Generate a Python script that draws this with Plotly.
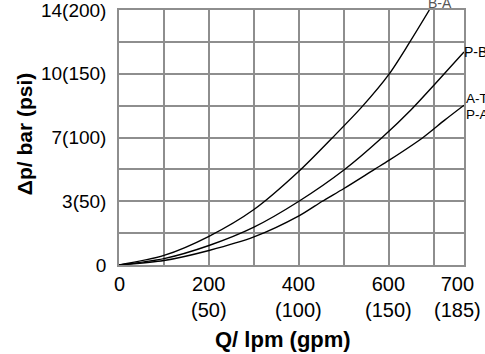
import plotly.graph_objects as go

# Flow (lpm) and pressure drop (psi)
BA_Q = [0, 100, 200, 300, 400, 475, 540, 600, 645, 690]
BA_PSI = [0, 7.5, 22.5, 43.5, 73.5, 100, 124, 149.5, 174, 200]

PB_Q = [0, 100, 200, 300, 400, 500, 585, 650, 700, 767]
PB_PSI = [0, 5, 15.3, 29.7, 50, 74.5, 100, 122, 141, 167]

AT_Q = [0, 100, 200, 300, 400, 452, 500, 568, 600, 676, 724, 767]
AT_PSI = [0, 3.5, 11.4, 22, 38.5, 50, 60, 75, 82, 100, 113.6, 125.3]

Y_TICK_VALS = [0, 25, 50, 75, 100, 125, 150, 175, 200]
Y_TICK_TEXT = ["0", "", "3(50)", "", "7(100)", "", "10(150)", "", "14(200)"]

X_LABEL_VALS = [0, 200, 400, 600, 753]
X_LABEL_TEXT = ["0", "200<br>(50)", "400<br>(100)", "600<br>(150)", "700<br>(185)"]

X_MAX = 767
Y_MAX = 200

FONT = "Arial, Liberation Sans, sans-serif"
GRID = "#8e8e8e"

fig = go.Figure()
for q, p in [(BA_Q, BA_PSI), (PB_Q, PB_PSI), (AT_Q, AT_PSI)]:
    fig.add_trace(go.Scatter(x=q, y=p, mode="lines",
                             line=dict(color="black", width=1.4, shape="spline", smoothing=0.8),
                             showlegend=False, hoverinfo="skip"))

annotations = []
for v, t in zip(X_LABEL_VALS, X_LABEL_TEXT):
    annotations.append(dict(x=v, y=0, xref="x", yref="paper", text=t, showarrow=False,
                            xanchor="center", yanchor="top", yshift=-6,
                            font=dict(family=FONT, size=20, color="black")))

# curve labels (placed at the end of each curve)
annotations += [
    dict(x=BA_Q[-1], y=1, xref="x", yref="paper", text="B-A", showarrow=False,
         xanchor="left", yanchor="middle", xshift=-3, yshift=7,
         font=dict(family=FONT, size=14, color="#555555")),
    dict(x=1, y=PB_PSI[-1], xref="paper", yref="y", text="P-B", showarrow=False,
         xanchor="left", yanchor="middle", xshift=-2, yshift=0,
         font=dict(family=FONT, size=14, color="black")),
    dict(x=1, y=AT_PSI[-1], xref="paper", yref="y", text="A-T", showarrow=False,
         xanchor="left", yanchor="middle", xshift=0, yshift=7,
         font=dict(family=FONT, size=13.5, color="black")),
    dict(x=1, y=AT_PSI[-1], xref="paper", yref="y", text="P-A", showarrow=False,
         xanchor="left", yanchor="middle", xshift=0, yshift=-9,
         font=dict(family=FONT, size=13.5, color="black")),
]

# axis titles
annotations += [
    dict(x=0.475, y=0, xref="paper", yref="paper", text="<b>Q/ lpm (gpm)</b>", showarrow=False,
         xanchor="center", yanchor="middle", yshift=-74,
         font=dict(family=FONT, size=22, color="black")),
    dict(x=0, y=0.513, xref="paper", yref="paper", text="<b>Δp/ bar (psi)</b>", showarrow=False,
         xanchor="center", yanchor="middle", xshift=-95, textangle=-90,
         font=dict(family=FONT, size=21, color="black")),
]

fig.update_layout(
    width=485, height=354,
    margin=dict(l=119, r=21, t=10, b=89, autoexpand=False),
    paper_bgcolor="white", plot_bgcolor="white",
    annotations=annotations,
    xaxis=dict(range=[0, X_MAX], dtick=100, tick0=0, showgrid=True, gridcolor=GRID, gridwidth=1.5,
               showticklabels=False, zeroline=False, showline=True, linecolor=GRID, linewidth=1.5,
               mirror=True, fixedrange=True, automargin=False),
    yaxis=dict(range=[0, Y_MAX], tickvals=Y_TICK_VALS, ticktext=Y_TICK_TEXT, showgrid=True,
               gridcolor=GRID, gridwidth=1.5, zeroline=False, showline=True, linecolor=GRID,
               linewidth=1.5, mirror=True, ticks="", ticklabelstandoff=7, automargin=False,
               ticklabeloverflow="allow",
               tickfont=dict(family=FONT, size=19, color="black"), fixedrange=True),
)

fig.write_html("out.html", config={"displayModeBar": False},
               post_script="document.body.style.margin='0';document.body.style.overflow='hidden';")
